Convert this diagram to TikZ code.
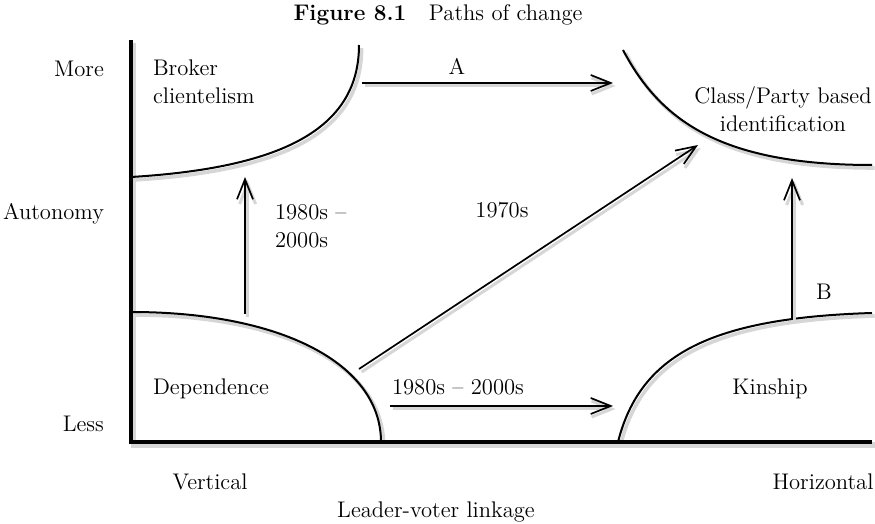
\documentclass[tikz,border=0pt]{standalone}
\usepackage{tikz}
\usetikzlibrary{arrows.meta}

\tikzset{
  dropshadow/.style={preaction={draw=black!16, line width=#1,
      transform canvas={shift={(1.3pt,-1.5pt)}}}}
}

\begin{document}
\begin{tikzpicture}[x=0.5pt, y=-0.5pt, font=\fontsize{11.3}{14}\selectfont,
    axis/.style={line width=2pt, line join=miter},
    region/.style={line width=1pt, dropshadow=1.8pt},
    change/.style={line width=0.85pt, -{Straight Barb[length=10pt,width=8pt]}, dropshadow=1.5pt}]
    \useasboundingbox (0,0) rectangle (875,524);

    % 1. Title
    \node (title) at (438,15) {\textbf{Figure 8.1}\quad Paths of change};

    % 2. Axes with their shadow (stroked again on top of the regions)
    \draw[axis, dropshadow=2.6pt] (131,40) -- (131,442) -- (872,442);

    % 3. The four regions
    \draw[region] (131,177) .. controls (280,168) and (359,130) .. (359,45);
    \draw[region] (623,50) .. controls (660,120) and (720,165) .. (872,165);
    \draw[region] (131,312) .. controls (282,312) and (381,364) .. (381,442);
    \draw[region] (618,442) .. controls (640,355) and (710,318) .. (872,313);
    \node[anchor=base west, align=left] (broker) at (146,104) {Broker\\clientelism};
    \node[anchor=base, align=center] (party) at (783,132) {Class/Party based\\identification};
    \node[anchor=base west] (dependence) at (146,395) {Dependence};
    \node[anchor=base] (kinship) at (770,395) {Kinship};

    \draw[axis] (131,40) -- (131,442) -- (872,442);
    \node[anchor=base east] (more) at (111,77) {More};
    \node[anchor=base east] (autonomy) at (111,220) {Autonomy};
    \node[anchor=base east] (less) at (111,432) {Less};
    \node[anchor=base] (vertical) at (210,490) {Vertical};
    \node[anchor=base] (horizontal) at (823,490) {Horizontal};
    \node[anchor=base] (linkage) at (436,518) {Leader-voter linkage};

    % 4. Paths of change
    \coordinate (brokerout) at (362,83);
    \coordinate (partyinA) at (613,83);
    \coordinate (depup) at (245,314);
    \coordinate (brokerin) at (245,177);
    \coordinate (depdiag) at (359,369);
    \coordinate (partyin) at (698,145);
    \coordinate (depright) at (390,406);
    \coordinate (kinin) at (613,406);
    \coordinate (kinup) at (792,318);
    \coordinate (partyinB) at (792,178);

    \draw[change] (brokerout) -- (partyinA);
    \draw[change] (depup) -- (brokerin);
    \draw[change] (depdiag) -- (partyin);
    \draw[change] (depright) -- (kinin);
    \draw[change] (kinup) -- (partyinB);

    \node[anchor=base] (lblA) at (457,75) {A};
    \node[anchor=base west, align=left] (lblup) at (268,248) {1980s --\\2000s};
    \node[anchor=base] (lbldiag) at (502,218) {1970s};
    \node[anchor=base] (lblright) at (458,395) {1980s -- 2000s};
    \node[anchor=base] (lblB) at (824,300) {B};
\end{tikzpicture}
\end{document}
